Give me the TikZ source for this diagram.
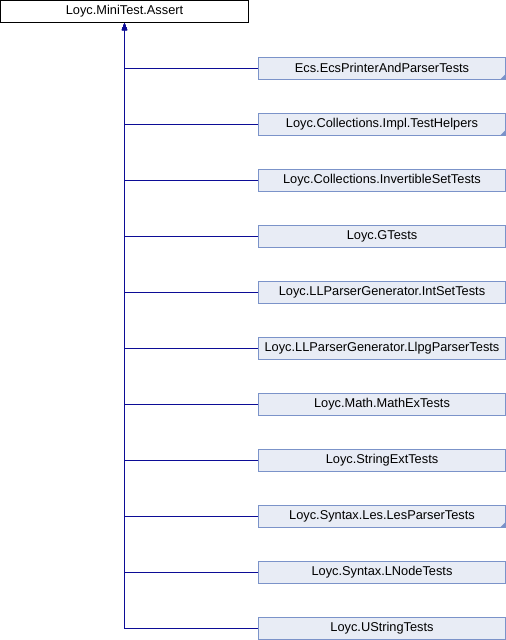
\documentclass[tikz,border=0pt]{standalone}
\usepackage{fontspec}
\setmainfont{Liberation Sans}
\usetikzlibrary{arrows.meta}
\definecolor{edgeblue}{RGB}{12,12,150}
\definecolor{boxfill}{RGB}{232,236,245}
\definecolor{boxline}{RGB}{123,147,201}
\tikzset{
  rootbox/.style={draw=black, fill=white, line width=1pt, minimum width=248pt, minimum height=22pt, inner sep=0pt, font=\fontsize{12.8}{15}\selectfont},
  childbox/.style={draw=boxline, fill=boxfill, line width=1pt, minimum width=247pt, minimum height=22pt, inner sep=0pt, font=\fontsize{12.8}{15}\selectfont},
  inh/.style={draw=edgeblue, line width=1pt, -{Triangle[length=7pt,width=5pt]}},
  corner/.style={fill=boxline}
}
\begin{document}
\begin{tikzpicture}[x=1pt,y=-1pt]
\useasboundingbox (0,0) rectangle (506,640);
\node[rootbox] (root) at (124.5,11.5) {Loyc.MiniTest.Assert};
\foreach \i/\t in {0/Ecs.EcsPrinterAndParserTests,
  1/Loyc.Collections.Impl.TestHelpers,
  2/Loyc.Collections.InvertibleSetTests,
  3/Loyc.GTests,
  4/Loyc.LLParserGenerator.IntSetTests,
  5/Loyc.LLParserGenerator.LlpgParserTests,
  6/Loyc.Math.MathExTests,
  7/Loyc.StringExtTests,
  8/Loyc.Syntax.Les.LesParserTests,
  9/Loyc.Syntax.LNodeTests,
  10/Loyc.UStringTests}{
  \node[childbox] (c\i) at (382,68+56*\i) {\t};
}
\foreach \i in {0,1,8}{
  \fill[corner] (c\i.south east) -- ++(0,-6) -- ++(-6,6) -- cycle;
}
\foreach \i in {10,9,...,0}{
  \draw[inh] (c\i.west) -| (root.south);
}
\end{tikzpicture}
\end{document}
